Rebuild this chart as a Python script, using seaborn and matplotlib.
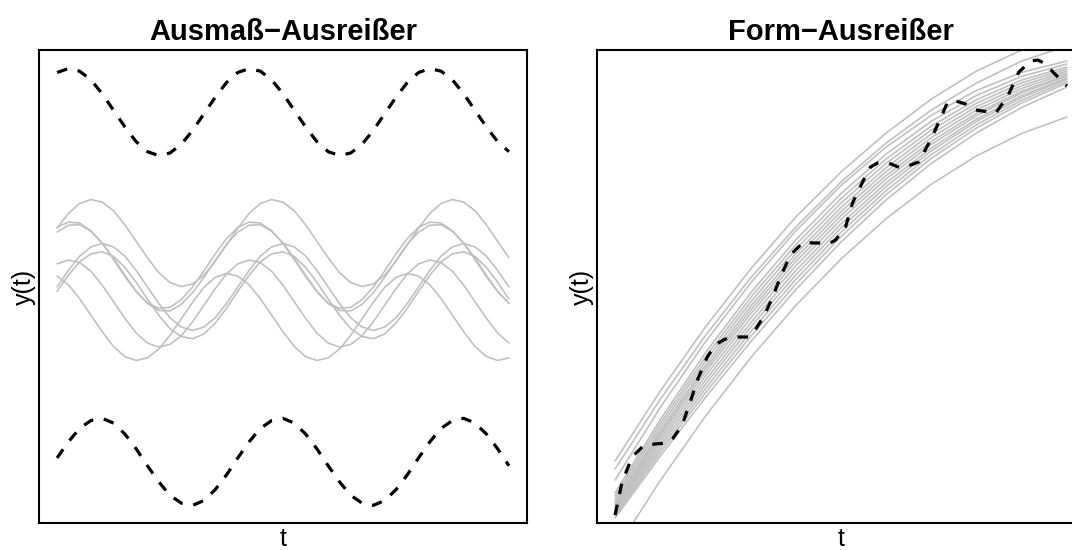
import matplotlib
matplotlib.use("Agg")
import matplotlib.pyplot as plt
import seaborn as sns
import pandas as pd

sns.set_style("white")
plt.rcParams['font.family'] = ['Liberation Sans', 'DejaVu Sans']
plt.rcParams['text.color'] = 'black'
plt.rcParams['axes.labelcolor'] = 'black'

# ---------------- data: left panel (Ausmass-Ausreisser) ----------------
t_left = [0.000, 0.025, 0.050, 0.075, 0.100, 0.125, 0.150, 0.175, 0.200, 0.225,
          0.250, 0.275, 0.300, 0.325, 0.350, 0.375, 0.400, 0.425, 0.450, 0.475,
          0.500, 0.525, 0.550, 0.575, 0.600, 0.625, 0.650, 0.675, 0.700, 0.725,
          0.750, 0.775, 0.800, 0.825, 0.850, 0.875, 0.900, 0.925, 0.950, 0.975, 1.000]

grey_a = [1.42, 1.76, 1.99, 2.08, 2.02, 1.82, 1.50, 1.12, 0.74, 0.40, 0.17, 0.08, 0.14, 0.34, 0.66, 1.04,
          1.42, 1.76, 1.99, 2.08, 2.02, 1.82, 1.50, 1.12, 0.74, 0.40, 0.17, 0.08, 0.14, 0.34, 0.66, 1.04,
          1.42, 1.76, 1.99, 2.08, 2.02, 1.82, 1.50, 1.12, 0.74]
grey_b = [1.44, 1.56, 1.54, 1.36, 1.07, 0.70, 0.31, -0.04, -0.30, -0.42, -0.40, -0.22, 0.07, 0.44, 0.83, 1.18,
          1.44, 1.56, 1.54, 1.36, 1.07, 0.70, 0.31, -0.04, -0.30, -0.42, -0.40, -0.22, 0.07, 0.44, 0.83, 1.18,
          1.44, 1.56, 1.54, 1.36, 1.07, 0.70, 0.31, -0.04, -0.30]
grey_c = [1.33, 1.49, 1.50, 1.35, 1.08, 0.73, 0.34, -0.03, -0.31, -0.47, -0.48, -0.33, -0.06, 0.29, 0.68, 1.05,
          1.33, 1.49, 1.50, 1.35, 1.08, 0.73, 0.34, -0.03, -0.31, -0.47, -0.48, -0.33, -0.06, 0.29, 0.68, 1.05,
          1.33, 1.49, 1.50, 1.35, 1.08, 0.73, 0.34, -0.03, -0.31]
grey_d = [0.07, 0.45, 0.78, 0.99, 1.07, 0.99, 0.78, 0.45, 0.07, -0.31, -0.64, -0.85, -0.93, -0.85, -0.64, -0.31,
          0.07, 0.45, 0.78, 0.99, 1.07, 0.99, 0.78, 0.45, 0.07, -0.31, -0.64, -0.85, -0.93, -0.85, -0.64, -0.31,
          0.07, 0.45, 0.78, 0.99, 1.07, 0.99, 0.78, 0.45, 0.07]
grey_e = [-0.03, 0.34, 0.65, 0.83, 0.88, 0.77, 0.52, 0.18, -0.21, -0.58, -0.89, -1.07, -1.12, -1.01, -0.76, -0.42,
          -0.03, 0.34, 0.65, 0.83, 0.88, 0.77, 0.52, 0.18, -0.21, -0.58, -0.89, -1.07, -1.12, -1.01, -0.76, -0.42,
          -0.03, 0.34, 0.65, 0.83, 0.88, 0.77, 0.52, 0.18, -0.21]
grey_f = [0.60, 0.69, 0.63, 0.43, 0.11, -0.27, -0.65, -0.99, -1.22, -1.31, -1.25, -1.05, -0.73, -0.35, 0.03, 0.37,
          0.60, 0.69, 0.63, 0.43, 0.11, -0.27, -0.65, -0.99, -1.22, -1.31, -1.25, -1.05, -0.73, -0.35, 0.03, 0.37,
          0.60, 0.69, 0.63, 0.43, 0.11, -0.27, -0.65, -0.99, -1.22]
grey_g = [0.32, 0.12, -0.20, -0.58, -0.96, -1.30, -1.53, -1.62, -1.56, -1.36, -1.04, -0.66, -0.28, 0.06, 0.29, 0.38,
          0.32, 0.12, -0.20, -0.58, -0.96, -1.30, -1.53, -1.62, -1.56, -1.36, -1.04, -0.66, -0.28, 0.06, 0.29, 0.38,
          0.32, 0.12, -0.20, -0.58, -0.96, -1.30, -1.53, -1.62, -1.56]
outlier_top = [5.00, 5.09, 5.03, 4.83, 4.51, 4.13, 3.75, 3.41, 3.18, 3.09, 3.15, 3.35, 3.67, 4.05, 4.43, 4.77,
               5.00, 5.09, 5.03, 4.83, 4.51, 4.13, 3.75, 3.41, 3.18, 3.09, 3.15, 3.35, 3.67, 4.05, 4.43, 4.77,
               5.00, 5.09, 5.03, 4.83, 4.51, 4.13, 3.75, 3.41, 3.18]
outlier_bottom = [-3.86, -3.49, -3.18, -3.00, -2.95, -3.06, -3.31, -3.65, -4.04, -4.41, -4.72, -4.90, -4.95, -4.84, -4.59, -4.25,
                  -3.86, -3.49, -3.18, -3.00, -2.95, -3.06, -3.31, -3.65, -4.04, -4.41, -4.72, -4.90, -4.95, -4.84, -4.59, -4.25,
                  -3.86, -3.49, -3.18, -3.00, -2.95, -3.06, -3.31, -3.65, -4.04]

left_grey = [grey_a, grey_b, grey_c, grey_d, grey_e, grey_f, grey_g]
left_outliers = [outlier_top, outlier_bottom]

# ---------------- data: right panel (Form-Ausreisser) ----------------
t_right = [0.0, 0.1, 0.2, 0.3, 0.4, 0.5, 0.6, 0.7, 0.8, 0.9, 1.0]

shape_01 = [6.2, 13.2, 19.6, 25.4, 30.6, 35.1, 39.0, 42.4, 45.2, 47.3, 49.0]
shape_02 = [5.4, 12.37, 18.74, 24.51, 29.6, 34.1, 38.0, 41.3, 44.0, 46.2, 47.7]
shape_03 = [4.3, 11.55, 18.12, 24.01, 29.22, 33.75, 37.6, 40.77, 43.26, 45.07, 46.2]
shape_04 = [3.0, 10.35, 17.02, 23.01, 28.32, 32.95, 36.9, 40.17, 42.76, 44.67, 45.9]
shape_05 = [2.7, 9.98, 16.59, 22.54, 27.83, 32.45, 36.41, 39.7, 42.33, 44.3, 45.6]
shape_06 = [2.4, 9.62, 16.18, 22.1, 27.38, 32.0, 35.98, 39.3, 41.98, 44.02, 45.4]
shape_07 = [2.1, 9.25, 15.78, 21.67, 26.92, 31.55, 35.54, 38.91, 41.64, 43.73, 45.2]
shape_08 = [1.9, 8.98, 15.45, 21.3, 26.53, 31.15, 35.15, 38.54, 41.31, 43.46, 45.0]
shape_09 = [1.7, 8.71, 15.12, 20.93, 26.14, 30.75, 34.76, 38.17, 40.98, 43.19, 44.8]
shape_10 = [1.5, 8.38, 14.71, 20.49, 25.71, 30.36, 34.41, 37.87, 40.73, 43.01, 44.7]
shape_11 = [1.3, 8.05, 14.28, 20.02, 25.25, 29.92, 34.01, 37.5, 40.4, 42.74, 44.5]
shape_12 = [1.1, 7.71, 13.88, 19.59, 24.81, 29.52, 33.65, 37.21, 40.16, 42.55, 44.4]
shape_13 = [0.9, 7.37, 13.45, 19.12, 24.35, 29.08, 33.24, 36.84, 39.83, 42.28, 44.2]
shape_14 = [0.7, 7.04, 13.02, 18.65, 23.89, 28.64, 32.84, 36.47, 39.5, 42.01, 44.0]
shape_15 = [0.5, 6.68, 12.55, 18.12, 23.34, 28.1, 32.31, 35.96, 39.01, 41.56, 43.6]
shape_16 = [-2.8, 4.24, 10.68, 16.52, 21.76, 26.4, 30.44, 33.88, 36.72, 38.96, 40.6]

right_grey = [shape_01, shape_02, shape_03, shape_04, shape_05, shape_06, shape_07, shape_08,
              shape_09, shape_10, shape_11, shape_12, shape_13, shape_14, shape_15, shape_16]

t_shape_outlier = [0.0, 0.0155, 0.0377, 0.0621, 0.0887, 0.1153, 0.1286, 0.1486, 0.1663, 0.184,
                   0.204, 0.2217, 0.2395, 0.255, 0.2772, 0.2949, 0.306, 0.3282, 0.3481, 0.3659,
                   0.388, 0.4169, 0.439, 0.4568, 0.4723, 0.4878, 0.51, 0.5255, 0.5477, 0.5654,
                   0.5809, 0.6053, 0.6319, 0.6541, 0.6718, 0.6984, 0.7206, 0.7361, 0.7539, 0.776,
                   0.7982, 0.8426, 0.8692, 0.8936, 0.9202, 0.9357, 0.9534, 0.969, 0.9823, 1.0]
shape_outlier = [0.8, 4.1, 6.6, 7.7, 7.9, 8.0, 8.5, 9.8, 12.1, 14.5,
                 16.6, 17.8, 18.3, 18.6, 18.6, 18.6, 19.0, 20.6, 22.5, 24.6,
                 26.8, 28.1, 28.0, 28.0, 27.9, 28.3, 29.6, 32.0, 34.1, 35.6,
                 36.0, 36.0, 35.5, 35.8, 36.1, 38.3, 40.5, 42.1, 42.2, 41.9,
                 41.3, 41.0, 42.7, 45.1, 46.2, 46.3, 45.9, 45.1, 44.5, 43.7]

titles = ["Ausmaß\u2212Ausreißer", "Form\u2212Ausreißer"]
x_label = "t"
y_label = "y(t)"

GREY = "#BEBEBE"

# ---------------- figure ----------------
fig = plt.figure(figsize=(10.72, 5.50), dpi=100)
ax1 = fig.add_axes([39 / 1072, 1 - 523 / 550, 488 / 1072, 473 / 550])
ax2 = fig.add_axes([597 / 1072, 1 - 523 / 550, 488 / 1072, 473 / 550])


def draw_curve(ax, x, y, dashed=False):
    df = pd.DataFrame({"t": x, "y": y})
    if dashed:
        sns.lineplot(data=df, x="t", y="y", ax=ax, color="black", linewidth=2.3,
                     estimator=None, sort=False)
        ax.lines[-1].set_dashes([3.3, 3.4])
    else:
        sns.lineplot(data=df, x="t", y="y", ax=ax, color=GREY, linewidth=1.15,
                     estimator=None, sort=False)


for series in left_grey:
    draw_curve(ax1, t_left, series)
for series in left_outliers:
    draw_curve(ax1, t_left, series, dashed=True)

for series in right_grey:
    draw_curve(ax2, t_right, series)
draw_curve(ax2, t_shape_outlier, shape_outlier, dashed=True)

ax1.set_xlim(-0.04, 1.04)
ax1.set_ylim(-5.356, 5.517)
ax2.set_xlim(-0.04, 1.04)
ax2.set_ylim(0, 47.3)

for ax, title in zip([ax1, ax2], titles):
    ax.set_xticks([])
    ax.set_yticks([])
    ax.set_title(title, fontsize=21, fontweight="bold", pad=7, color="black")
    ax.set_xlabel(x_label, fontsize=18, labelpad=3)
    ax.set_ylabel(y_label, fontsize=18, labelpad=2)
    for s in ax.spines.values():
        s.set_visible(True)
        s.set_color("black")
        s.set_linewidth(1.5)

fig.savefig("out.png", dpi=100, facecolor="white")
